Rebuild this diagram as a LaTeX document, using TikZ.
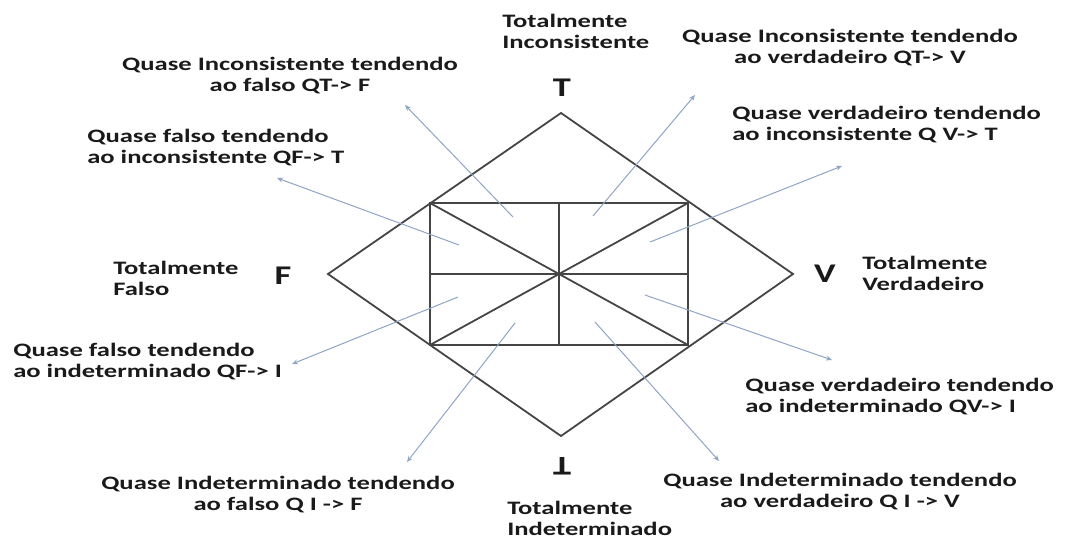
\documentclass[tikz,border=0pt]{standalone}
\usepackage{fontspec}
\setmainfont{Carlito}
\usepackage{tikz}
\usetikzlibrary{arrows.meta}
\definecolor{edgegray}{HTML}{454545}
\definecolor{arrowblue}{HTML}{8EA5C6}
\definecolor{txtdark}{HTML}{1A1A1A}

\begin{document}
\begin{tikzpicture}[x=1pt,y=-1pt,
  lbl/.style={font=\fontsize{19}{21}\selectfont\bfseries,text=txtdark,inner sep=0pt,xscale=1.4,align=left},
  vtx/.style={font=\fontsize{27}{27}\selectfont\bfseries,text=txtdark,inner sep=0pt,xscale=1.35},
  arr/.style={-{Stealth[length=6pt,width=5pt]},draw=arrowblue,line width=1pt},
  frame/.style={draw=edgegray,line width=1.8pt,line join=miter}]
  \useasboundingbox (0,0) rectangle (1071,541);
  % lattice
  \coordinate (top) at (561,113);
  \coordinate (rgt) at (793,274);
  \coordinate (bot) at (561,436);
  \coordinate (lft) at (328,274);
  \coordinate (c) at (559,274);
  \coordinate (nw) at (430,203);
  \coordinate (ne) at (688,203);
  \coordinate (sw) at (430,345);
  \coordinate (se) at (688,345);
  \draw[frame] (top) -- (rgt) -- (bot) -- (lft) -- cycle;
  \draw[frame] (nw) rectangle (se);
  \draw[frame] (nw) -- (se) (ne) -- (sw);
  \draw[frame] (nw -| c) -- (sw -| c) (lft -| nw) -- (rgt -| ne);
  % vertices
  \node[vtx] (vT) at (562,88) {T};
  \node[vtx] (vF) at (283,276) {F};
  \node[vtx] (vV) at (825,274) {V};
  \node[vtx,rotate=180] (vI) at (562,466) {T};
  % labels
  \node[lbl,anchor=north west] (tI) at (502,14) {Totalmente\\Inconsistente};
  \node[lbl,anchor=north west] (tF) at (113,261) {Totalmente\\Falso};
  \node[lbl,anchor=north west] (tV) at (862,256) {Totalmente\\Verdadeiro};
  \node[lbl,anchor=north west] (tB) at (507,501) {Totalmente\\Indeterminado};
  \node[lbl,anchor=north,align=center] (qtf) at (290,57) {Quase Inconsistente tendendo\\ao falso QT-> F};
  \node[lbl,anchor=north,align=center] (qtv) at (850,29) {Quase Inconsistente tendendo\\ao verdadeiro QT-> V};
  \node[lbl,anchor=north west] (qft) at (87,129) {Quase falso tendendo\\ao inconsistente QF-> T};
  \node[lbl,anchor=north west] (qvt) at (732,106) {Quase verdadeiro tendendo\\ao inconsistente Q V-> T};
  \node[lbl,anchor=north west] (qfi) at (13,343) {Quase falso tendendo\\ao indeterminado QF-> I};
  \node[lbl,anchor=north west] (qvi) at (745,378) {Quase verdadeiro tendendo\\ao indeterminado QV-> I};
  \node[lbl,anchor=north,align=center] (qif) at (278,476) {Quase Indeterminado tendendo\\ao falso Q I -> F};
  \node[lbl,anchor=north,align=center] (qiv) at (840,473) {Quase Indeterminado tendendo\\ao verdadeiro Q I -> V};
  % arrow ends
  \coordinate (s1) at (513,217); \coordinate (e1) at (405,105);
  \coordinate (s2) at (593,216); \coordinate (e2) at (695,95);
  \coordinate (s3) at (459,245); \coordinate (e3) at (277,178);
  \coordinate (s4) at (650,242); \coordinate (e4) at (842,166);
  \coordinate (s5) at (458,297); \coordinate (e5) at (292,364);
  \coordinate (s6) at (645,295); \coordinate (e6) at (832,360);
  \coordinate (s7) at (515,323); \coordinate (e7) at (407,462);
  \coordinate (s8) at (595,322); \coordinate (e8) at (719,461);
  \path
  (s1) edge [arr] (e1)
  (s2) edge [arr] (e2)
  (s3) edge [arr] (e3)
  (s4) edge [arr] (e4)
  (s5) edge [arr] (e5)
  (s6) edge [arr] (e6)
  (s7) edge [arr] (e7)
  (s8) edge [arr] (e8)
  ;
\end{tikzpicture}
\end{document}
